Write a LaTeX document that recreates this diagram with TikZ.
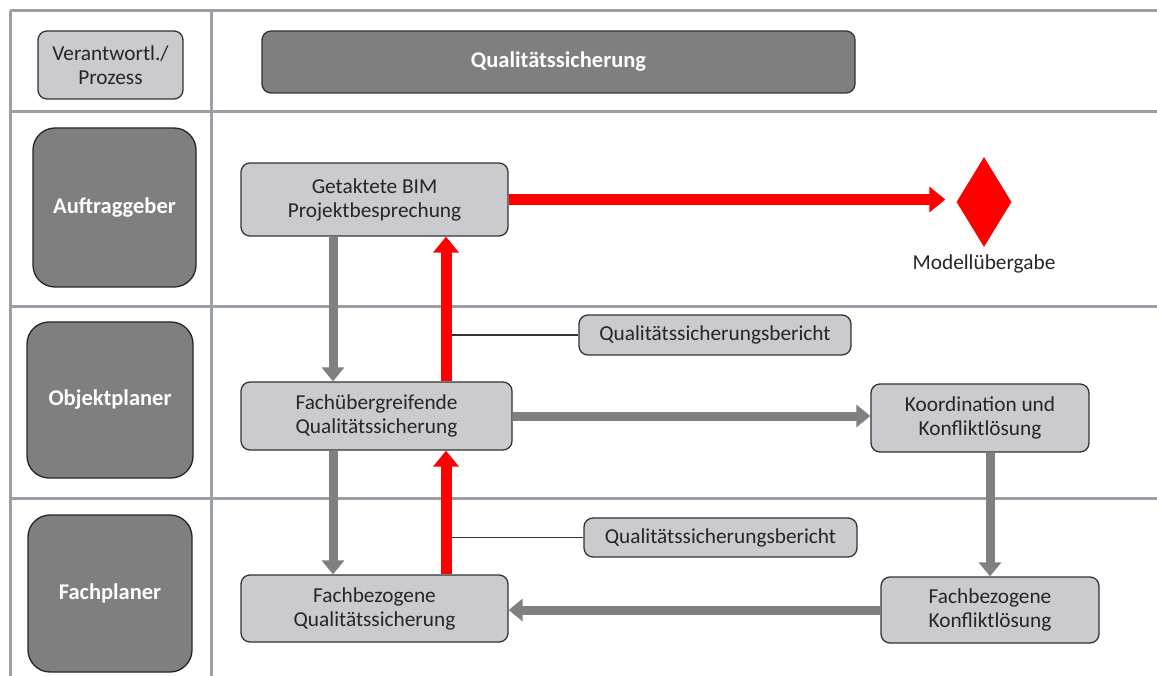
\documentclass[tikz,border=0pt]{standalone}
\usepackage{fontspec}
\setmainfont{Carlito}
\usepackage{tikz}
\usetikzlibrary{positioning,arrows.meta,shapes.geometric}
\definecolor{lanegrid}{RGB}{155,160,168}
\definecolor{boxlight}{RGB}{202,202,207}
\definecolor{boxdark}{RGB}{127,127,127}
\definecolor{flowgray}{RGB}{128,128,128}
\definecolor{qsred}{RGB}{255,0,0}

\begin{document}
\begin{tikzpicture}[x=1pt,y=-1pt,
  lane/.style={draw=lanegrid,line width=3pt},
  procbox/.style={draw=black!80,line width=1.3pt,fill=boxlight,rounded corners=9pt,
    align=center,font=\fontsize{21.3}{24}\selectfont,text=black!85,inner sep=0pt},
  rolebox/.style={draw=black!85,line width=1.3pt,fill=boxdark,rounded corners=22pt,
    align=center,font=\fontsize{22.5}{25}\selectfont\bfseries,text=white,inner sep=0pt},
  grayflow/.style={draw=flowgray,line width=9pt,-{Triangle[width=22pt,length=14pt]}},
  redflow/.style={draw=qsred,line width=11pt,-{Triangle[width=25pt,length=16pt]}},
  tie/.style={draw=black!80,line width=1.3pt}]
\useasboundingbox (0,0) rectangle (1157,676);
% swimlane grid
\draw[lane] (10,11) -- (1157,11);
\draw[lane] (10,112) -- (1157,112);
\draw[lane] (10,307) -- (1157,307);
\draw[lane] (10,498) -- (1157,498);
\draw[lane] (10,11) -- (10,676);
\draw[lane] (211,11) -- (211,676);
% header row
\node[procbox,minimum width=145pt,minimum height=68pt] (verant) at (110.5,65) {Verantwortl./\\Prozess};
\node[procbox,fill=boxdark,minimum width=593pt,minimum height=62pt,text=white,
  font=\fontsize{22.5}{25}\selectfont\bfseries] (head) at (558.5,62) {Qualitätssicherung};
% roles
\node[rolebox,minimum width=163pt,minimum height=159pt] (auftr) at (114.5,207.5) {Auftraggeber};
\node[rolebox,minimum width=166pt,minimum height=156pt] (objekt) at (110,400) {Objektplaner};
\node[rolebox,minimum width=164pt,minimum height=157pt] (fachpl) at (110,593.5) {Fachplaner};
% process steps
\node[procbox,minimum width=267pt,minimum height=73pt] (bim) at (374.5,199.5) {Getaktete BIM\\Projektbesprechung};
\node[procbox,minimum width=271pt,minimum height=68pt] (fue) at (376.5,416) {Fachübergreifende\\Qualitätssicherung};
\node[procbox,minimum width=218pt,minimum height=68pt] (koord) at (980,418) {Koordination und\\Konfliktlösung};
\node[procbox,minimum width=218pt,minimum height=66pt] (fbk) at (990,610) {Fachbezogene\\Konfliktlösung};
\node[procbox,minimum width=267pt,minimum height=67pt] (fbq) at (374.5,608.5) {Fachbezogene\\Qualitätssicherung};
\node[procbox,minimum width=272pt,minimum height=40pt] (qsb1) at (715,335) {Qualitätssicherungsbericht};
\node[procbox,minimum width=273pt,minimum height=39pt] (qsb2) at (720.5,537.5) {Qualitätssicherungsbericht};
% milestone
\node[diamond,fill=qsred,inner sep=0pt,minimum width=55pt,minimum height=90pt] (mile) at (984,202) {};
\node[font=\fontsize{21.3}{24}\selectfont,text=black!85,below=4pt of mile] (milelbl) {Modellübergabe};
% flows
\coordinate (gx) at (333,0);
\coordinate (rx) at (446,0);
\draw[tie] (qsb1.west) -- (qsb1.west -| rx);
\draw[tie] (qsb2.west) -- (qsb2.west -| rx);
\draw[grayflow] (bim.south -| gx) -- (fue.north -| gx);
\draw[grayflow] (fue.south -| gx) -- (fbq.north -| gx);
\draw[grayflow] (fue.east) -- (fue.east -| koord.west);
\draw[grayflow] (koord.south -| fbk.north) -- (fbk.north);
\draw[grayflow] (fbk.west) -- (fbk.west -| fbq.east);
\draw[redflow] (fbq.north -| rx) -- (fue.south -| rx);
\draw[redflow] (fue.north -| rx) -- (bim.south -| rx);
\draw[redflow,shorten >=11pt] (bim.east) -- (bim.east -| mile.west);
\end{tikzpicture}
\end{document}
